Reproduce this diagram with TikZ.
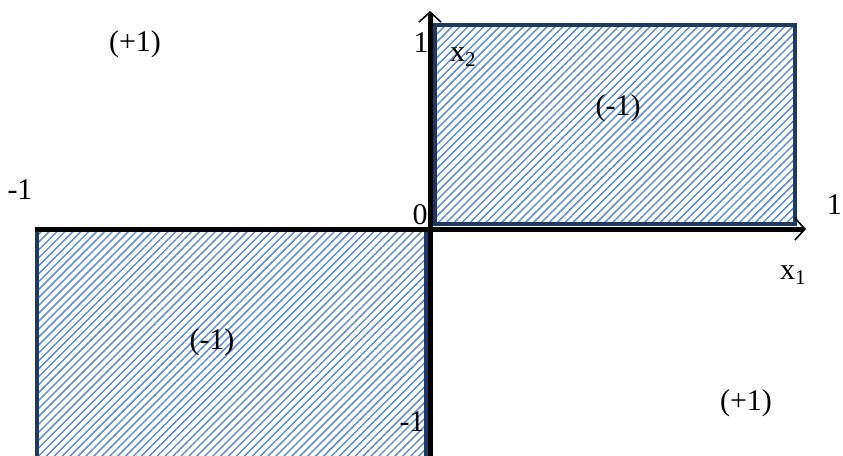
\documentclass[tikz,border=0pt]{standalone}
\usepackage{fontspec}
\setmainfont{Liberation Serif}
\usetikzlibrary{arrows.meta,patterns.meta}
\definecolor{boxblue}{RGB}{31,56,100}
\definecolor{hatchblue}{RGB}{96,142,210}
\tikzset{
  region/.style={draw=boxblue,line width=4.5pt,
    pattern={Lines[distance=5.6pt,angle=45,line width=1.5pt]},pattern color=hatchblue},
  axis/.style={line width=5pt,black},
  lbl/.style={font=\fontsize{30}{34}\selectfont,inner sep=0pt}
}
\begin{document}
\begin{tikzpicture}[x=1pt,y=-1pt]
  \useasboundingbox (0,0) rectangle (843,455);
  % shaded regions
  \draw[region] (435,25) rectangle (795,224);
  \draw[region] (37,230) rectangle (426,470);
  % axes
  \coordinate (o) at (430,229);
  \coordinate (xend) at (806,229);
  \coordinate (yend) at (430,11);
  \coordinate (xstart) at (35,229);
  \coordinate (ystart) at (430,460);
  \draw[axis] (xstart) -- (o);
  \draw[axis] (ystart) -- (o);
  \draw[axis,-{Straight Barb[length=10pt,width=22pt,line width=1.6pt]}] (o) -- (xend);
  \draw[axis,-{Straight Barb[length=10pt,width=22pt,line width=1.6pt]}] (o) -- (yend);
  % labels
  \node[lbl] (pTL) at (135,44) {(+1)};
  \node[lbl] (oneY) at (421,43) {1};
  \node[lbl] (x2) at (463,57) {x\textsubscript{2}};
  \node[lbl] (mTR) at (618,108) {(-1)};
  \node[lbl] (mX) at (20,190) {-1};
  \node[lbl] (zero) at (420,215) {0};
  \node[lbl,anchor=east] (oneX) at (842,205) {1};
  \node[lbl] (x1) at (793,275) {x\textsubscript{1}};
  \node[lbl] (mBL) at (212,342) {(-1)};
  \node[lbl] (pBR) at (746,403) {(+1)};
  \node[lbl] (mY) at (412,422) {-1};
\end{tikzpicture}
\end{document}
